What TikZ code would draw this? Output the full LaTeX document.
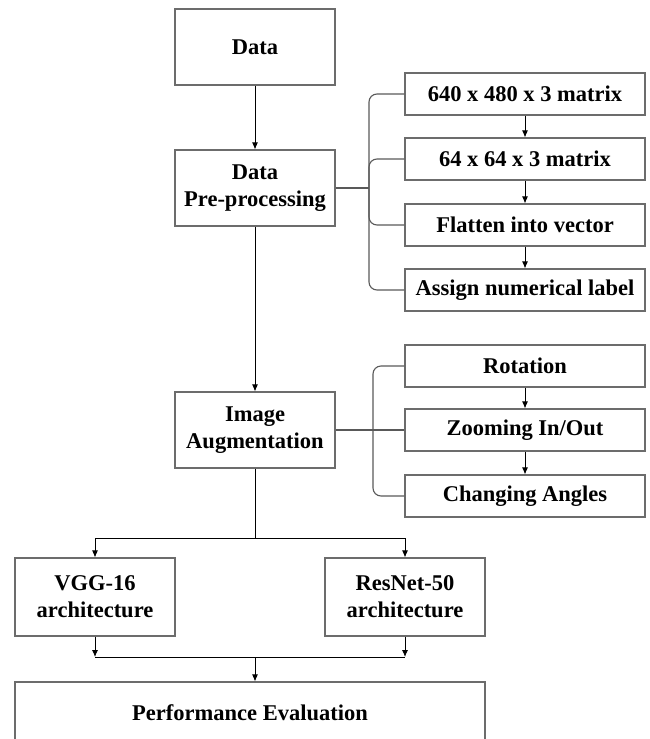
\documentclass[tikz,border=0pt]{standalone}
\usepackage{fontspec}
\setmainfont{Liberation Serif}
\usetikzlibrary{arrows.meta}

\tikzset{
  box/.style={draw=gray!85!black, line width=1.1pt, inner sep=0pt, align=center,
    font=\fontsize{22.5}{27}\selectfont\bfseries},
  bigbox/.style={box, minimum width=160pt, minimum height=76pt},
  subbox/.style={box, minimum width=240pt, minimum height=42pt},
  line/.style={draw=gray!70!black, line width=1.1pt},
  arrow/.style={draw=black, line width=0.9pt, -{Latex[length=7pt,width=6pt]}}
}

\begin{document}
\begin{tikzpicture}[x=1pt,y=-1pt]
      \useasboundingbox (0,0) rectangle (649,739);

      % Main column
      \node[bigbox] (data) at (255,47) {Data};
      \node[bigbox] (pre) at (255,188) {Data\\Pre-processing};
      \node[bigbox] (aug) at (255,430) {Image\\Augmentation};

      % Pre-processing steps
      \node[subbox] (mat1) at (525,94) {640 x 480 x 3 matrix};
      \node[subbox] (mat2) at (525,159) {64 x 64 x 3 matrix};
      \node[subbox] (flat) at (525,225) {Flatten into vector};
      \node[subbox] (lab) at (525,290) {Assign numerical label};

      % Augmentation steps
      \node[subbox] (rot) at (525,366) {Rotation};
      \node[subbox] (zoom) at (525,430) {Zooming In/Out};
      \node[subbox] (ang) at (525,496) {Changing Angles};

      % Models
      \node[bigbox, minimum height=78pt] (vgg) at (95,597) {VGG-16\\architecture};
      \node[bigbox, minimum height=78pt] (res) at (405,597) {ResNet-50\\architecture};

      % Evaluation (runs past the bottom edge)
      \node[box, minimum width=470pt, minimum height=62pt] (perf) at (250,713) {Performance Evaluation};

      % Main flow
      \draw[arrow] (data) -- (pre);
      \draw[arrow] (pre) -- (aug);

      % Bracket to pre-processing steps
      \coordinate (brA) at (369,188);
      \draw[line] (pre.east) -- (brA);
      \draw[line, rounded corners=8pt] (mat1.west) -| (brA) |- (lab.west);
      \draw[line, rounded corners=8pt] (mat2.west) -| (brA) |- (flat.west);
      \draw[arrow] (mat1) -- (mat2);
      \draw[arrow] (mat2) -- (flat);
      \draw[arrow] (flat) -- (lab);

      % Bracket to augmentation steps
      \coordinate (brB) at (373,430);
      \draw[line] (aug.east) -- (brB);
      \draw[line, rounded corners=8pt] (rot.west) -| (brB) |- (ang.west);
      \draw[line] (brB) -- (zoom.west);
      \draw[arrow] (rot) -- (zoom);
      \draw[arrow] (zoom) -- (ang);

      % Split into the two models
      \coordinate (split) at (255,538);
      \draw[draw=black, line width=0.9pt] (aug.south) -- (split);
      \draw[arrow] (split) -| (vgg.north);
      \draw[arrow] (split) -| (res.north);

      % Merge into evaluation
      \coordinate (merge) at (255,657);
      \draw[arrow] (vgg.south) -- (vgg.south |- merge);
      \draw[arrow] (res.south) -- (res.south |- merge);
      \draw[draw=black, line width=0.9pt] (vgg.south |- merge) -- (res.south |- merge);
      \draw[arrow] (merge) -- (merge |- perf.north);
    \end{tikzpicture}
\end{document}
